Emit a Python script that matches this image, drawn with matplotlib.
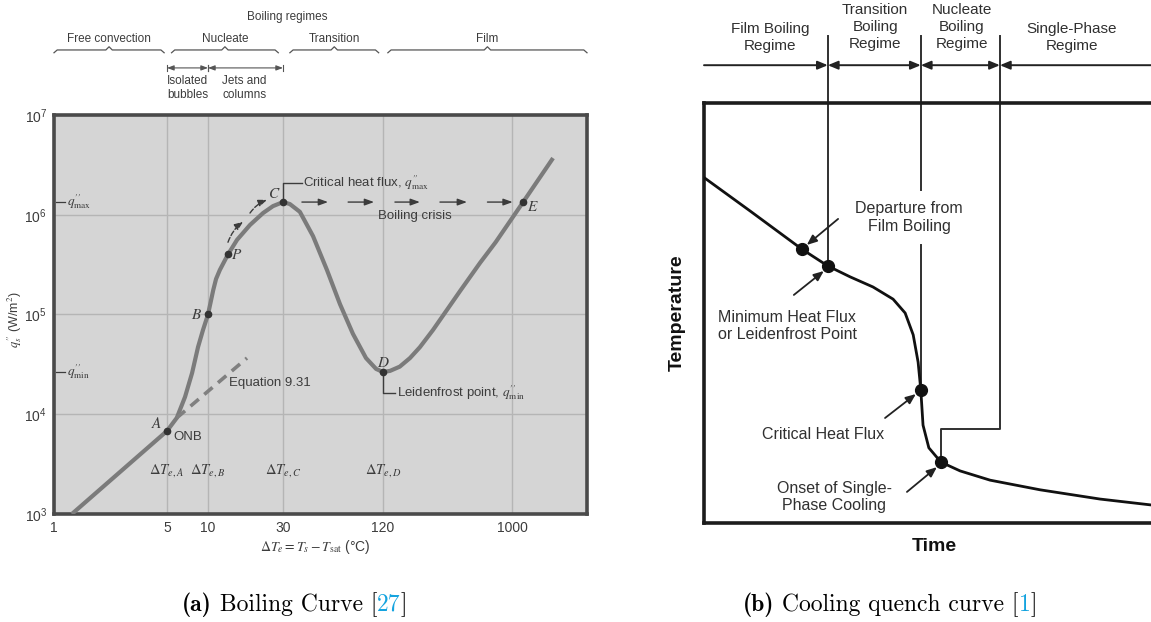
import numpy as np
import matplotlib.pyplot as plt
from matplotlib import transforms

# (a) boiling curve of water at 1 atm: excess temperature (C) vs surface heat flux (W/m^2)
dT = [1.29, 5, 5.9, 6.78, 7.64, 8.45, 9.19, 10, 10.8, 11.25, 11.9, 13.4, 15.3, 18.5, 22.4, 25.9, 30,
      33.0, 37.9, 45.5, 55.2, 66.1, 79.1, 94.8, 109, 120, 134.6, 158, 187, 220, 273, 343, 426,
      592, 764, 1180, 1840]
q = [1.0e3, 6.8e3, 9.2e3, 1.49e4, 2.59e4, 4.72e4, 7.0e4, 1.0e5, 1.76e5, 2.27e5, 2.8e5, 4.0e5, 5.6e5,
     7.9e5, 1.04e6, 1.22e6, 1.34e6,
     1.28e6, 1.07e6, 6.1e5, 2.79e5, 1.27e5, 6.4e4, 3.66e4, 2.85e4, 2.65e4, 2.72e4, 3.0e4, 3.66e4,
     4.7e4, 7.0e4, 1.11e5, 1.72e5, 3.3e5, 5.3e5, 1.34e6, 3.7e6]
pt_names = ['A', 'B', 'P', 'C', 'D', 'E']
pt_dT = [5, 10, 13.4, 30, 120, 1180]
pt_q = [6.8e3, 1.0e5, 4.0e5, 1.34e6, 2.65e4, 1.34e6]
eq_dT = [5.9, 17.7]          # Equation 9.31 (free convection extrapolated)
eq_q = [9.2e3, 3.66e4]
x_ticks = [1, 5, 10, 30, 120, 1000]
y_ticks = [1e3, 1e4, 1e5, 1e6, 1e7]
regimes = ['Free convection', 'Nucleate', 'Transition', 'Film']
regime_span = [(1, 4.8), (5.4, 28), (33, 113), (130, 3200)]

# (b) quench cooling curve, arbitrary units
time = [0.2, 10.3, 21.9, 27.7, 32.7, 37.8, 42.3, 45.0, 46.8, 47.9, 48.5, 49.0, 50.3, 53.0,
        57.3, 64.0, 75.2, 88.6, 100]
temp = [82.1, 74.3, 65.2, 61.2, 58.6, 56.2, 53.3, 50.0, 44.8, 38.3, 31.7, 23.3, 17.9, 14.5,
        12.4, 10.2, 7.9, 5.7, 4.3]
mark_time = [21.9, 27.7, 48.5, 53.0]
mark_temp = [65.2, 61.2, 31.7, 14.5]
bounds = [0, 27.7, 48.5, 66.2, 100]
quench_regimes = ['Film Boiling\nRegime', 'Transition\nBoiling\nRegime',
                  'Nucleate\nBoiling\nRegime', 'Single-Phase\nRegime']

plt.rcParams['mathtext.fontset'] = 'stix'
narrow = 'Liberation Sans'
ink = '#3c3c3c'
qpp = r"q^{\prime\prime}"

fig = plt.figure(figsize=(11.51, 6.22), dpi=100)
axL = fig.add_axes([54 / 1151, 108 / 622, 533 / 1151, 399 / 622])
axR = fig.add_axes([704 / 1151, 99 / 622, 447 / 1151, 420 / 622])

# ---- left: boiling curve ----
# schematic log axis: decades are not evenly spaced in the original drawing
scale_log = [-1, 0, np.log10(5), 1, np.log10(30), np.log10(120), 3, 5]
scale_pos = [-155, 0, 113, 154, 229, 329, 458, 768]


def fwd(x):
    return np.interp(np.log10(np.clip(x, 1e-6, None)), scale_log, scale_pos)


def inv(p):
    return 10 ** np.interp(p, scale_pos, scale_log)


def fx(x):
    return float(fwd(x)) / 533


axL.set_xscale('function', functions=(fwd, inv))
axL.set_yscale('log')
axL.set_xlim(1, inv(533))
axL.set_ylim(1e3, 1e7)
axL.set_facecolor('#d5d5d5')
axL.set_xticks(x_ticks)
axL.set_xticklabels([str(v) for v in x_ticks])
axL.set_yticks(y_ticks)
axL.yaxis.set_minor_locator(plt.NullLocator())
axL.grid(True, color='#b5b5b5', lw=1)
axL.tick_params(length=0, labelsize=10, colors=ink, pad=5)
for lab in axL.get_xticklabels() + axL.get_yticklabels():
    lab.set_family(narrow)
for s in axL.spines.values():
    s.set_linewidth(2.6)
    s.set_color('#4a4a4a')

axL.plot(dT, q, color='#7b7b7b', lw=3, solid_capstyle='butt', solid_joinstyle='round', zorder=3)
axL.plot(eq_dT, eq_q, color='#808080', lw=2.6, ls=(0, (3, 2)), zorder=3)
axL.plot(pt_dT, pt_q, 'o', color='#333333', ms=4.5, zorder=4)
offsets = {'A': (-10, 7), 'B': (-11, 0), 'P': (9, 0), 'C': (-9, 9), 'D': (0, 10), 'E': (10, -4)}
for name, x, y in zip(pt_names, pt_dT, pt_q):
    axL.annotate(f'${name}$', (x, y), xytext=offsets[name], textcoords='offset pixels',
                 ha='center', va='center', fontsize=11, color=ink)
axL.annotate('ONB', (pt_dT[0], pt_q[0]), xytext=(6, -6), textcoords='offset pixels',
             ha='left', va='center', fontsize=9.5, color=ink, family=narrow)

# q''max and q''min marks on the flux axis
ymix = transforms.blended_transform_factory(axL.transAxes, axL.transData)
for val, sub in [(pt_q[3], 'max'), (pt_q[4], 'min')]:
    axL.plot([0.004, 0.02], [val, val], color=ink, lw=0.9, transform=ymix)
    axL.text(0.024, val, r"$%s_{\rm %s}$" % (qpp, sub), transform=ymix, fontsize=9.5,
             va='center', ha='left', color=ink)

# critical heat flux / Leidenfrost leaders
axL.plot([30, 30, 39], [1.34e6, 2.08e6, 2.08e6], color=ink, lw=1)
axL.text(39.8, 2.08e6, r"Critical heat flux, $%s_{\rm max}$" % qpp, va='center', ha='left',
         fontsize=9.5, color=ink, family=narrow)
axL.plot([120, 120, 146], [2.65e4, 1.63e4, 1.63e4], color=ink, lw=1)
axL.text(150, 1.63e4, r"Leidenfrost point, $%s_{\rm min}$" % qpp, va='center', ha='left',
         fontsize=9.5, color=ink, family=narrow)

# boiling crisis jump C -> E
for a, b in [(39, 56), (74, 106), (146, 220), (306, 477), (668, 1010)]:
    axL.annotate('', xy=(b, 1.34e6), xytext=(a, 1.34e6),
                 arrowprops=dict(arrowstyle='-|>,head_length=0.55,head_width=0.2', color=ink,
                                 lw=1, shrinkA=0, shrinkB=0))
axL.text(0.677, 0.747, 'Boiling crisis', transform=axL.transAxes, ha='center', va='center',
         fontsize=9.5, color=ink, family=narrow)
for (x0, y0), (x1, y1) in [((13.4, 5.3e5), (16.7, 8.5e5)), ((18.5, 1.04e6), (23.7, 1.41e6))]:
    axL.annotate('', xy=(x1, y1), xytext=(x0, y0),
                 arrowprops=dict(arrowstyle='-|>,head_length=0.5,head_width=0.2', color=ink,
                                 lw=1, ls='--', shrinkA=0, shrinkB=0,
                                 connectionstyle='arc3,rad=-0.15'))
axL.text(0.328, 0.328, 'Equation 9.31', transform=axL.transAxes, ha='left', va='center',
         fontsize=9.5, color=ink, family=narrow)

xmix = transforms.blended_transform_factory(axL.transData, axL.transAxes)
for x, s in zip(pt_dT[:2] + pt_dT[3:5], 'ABCD'):
    axL.text(x, 0.11, r'$\Delta T_{e,%s}$' % s, transform=xmix, ha='center', va='center',
             fontsize=10.5, color=ink)
axL.text(0.49, -0.083, r'$\Delta T_e = T_s - T_{\rm sat}$ (°C)', transform=axL.transAxes,
         ha='center', va='center', fontsize=10, color=ink, family=narrow)
fig.text(0.013, 0.486, r"$%s_s$ (W/m$^2$)" % qpp, rotation=90, ha='center', va='center',
         fontsize=9, color=ink, family=narrow)

# regime braces above the plot
axL.text(0.437, 1.246, 'Boiling regimes', transform=axL.transAxes, ha='center', va='center',
         fontsize=8.5, color=ink, family=narrow)
for name, (x0, x1) in zip(regimes, regime_span):
    a, b = fx(x0), min(fx(x1), 1.0)
    m = (a + b) / 2
    d = 0.006
    axL.plot([a, a + d, m - d, m, m + d, b - d, b], [1.156, 1.163, 1.163, 1.171, 1.163, 1.163, 1.156],
             transform=axL.transAxes, clip_on=False, color='#555555', lw=0.9)
    axL.text(m, 1.19, name, transform=axL.transAxes, ha='center', va='center',
             fontsize=8.5, color=ink, family=narrow)
for x0, x1 in [(5, 10), (10, 30)]:
    axL.annotate('', xy=(fx(x1), 1.118), xytext=(fx(x0), 1.118), xycoords='axes fraction',
                 arrowprops=dict(arrowstyle='<|-|>,head_length=0.4,head_width=0.15', color='#555555',
                                 lw=0.8, shrinkA=0, shrinkB=0))
    for xx in (x0, x1):
        axL.plot([fx(xx), fx(xx)], [1.111, 1.126], transform=axL.transAxes, clip_on=False,
                 color='#555555', lw=0.8)
axL.text(fx(5), 1.1, 'Isolated\nbubbles', transform=axL.transAxes, ha='left', va='top',
         fontsize=8.5, color=ink, family=narrow, linespacing=1.2)
axL.text(0.316, 1.1, 'Jets and\ncolumns', transform=axL.transAxes, ha='left', va='top',
         fontsize=8.5, color=ink, family=narrow, linespacing=1.2)

# ---- right: quench curve ----
sans = 'Liberation Sans'
dark = '#303030'
axR.set_xlim(0, 100)
axR.set_ylim(0, 100)
axR.set_xticks([])
axR.set_yticks([])
for s in ['left', 'top', 'bottom']:
    axR.spines[s].set_linewidth(2.6)
    axR.spines[s].set_color('#1c1c1c')
axR.spines['right'].set_visible(False)

axR.plot(time, temp, color='#111111', lw=2, zorder=3)
axR.plot(mark_time, mark_temp, 'o', color='#111111', ms=8.5, zorder=4)

lkw = dict(color=dark, lw=1.4, clip_on=False)
axR.plot([27.7, 27.7], [116, 61.2], **lkw)
axR.plot([48.5, 48.5], [116, 79.3], **lkw)
axR.plot([48.5, 48.5], [66.2, 31.7], **lkw)
axR.plot([66.2, 66.2, 53.0, 53.0], [116, 22.4, 22.4, 14.5], **lkw)

for i, name in enumerate(quench_regimes):
    a, b = bounds[i], bounds[i + 1]
    style = '<|-|>' if 0 < i < 3 else ('-|>' if i == 0 else '<|-')
    axR.annotate('', xy=(b, 109), xytext=(a, 109), annotation_clip=False,
                 arrowprops=dict(arrowstyle=style + ',head_length=0.6,head_width=0.25',
                                 color='#222222', lw=1.4, shrinkA=0, shrinkB=0))
header_x = [14.8, 38.3, 57.7, 82.3]
for x, name in zip(header_x, quench_regimes):
    axR.text(x, 115.6 if name.count('\n') == 1 else 118.1, name, ha='center', va='center',
             fontsize=11, color=dark, family=sans, linespacing=1.3, clip_on=False)

akw = dict(arrowstyle='-|>,head_length=0.6,head_width=0.25', color='#222222', lw=1.3,
           shrinkA=0, shrinkB=0)
axR.text(45.9, 72.7, 'Departure from\nFilm Boiling', ha='center', va='center', fontsize=11.5,
         color=dark, family=sans, linespacing=1.2)
axR.annotate('', xy=(23.0, 66.2), xytext=(30.0, 72.4), arrowprops=akw)
axR.text(3.1, 46.9, 'Minimum Heat Flux\nor Leidenfrost Point', ha='left', va='center',
         fontsize=11.5, color=dark, family=sans, linespacing=1.2)
axR.annotate('', xy=(26.8, 60.0), xytext=(20.1, 54.3), arrowprops=akw)
axR.text(26.6, 21.0, 'Critical Heat Flux', ha='center', va='center', fontsize=11.5,
         color=dark, family=sans)
axR.annotate('', xy=(47.4, 30.7), xytext=(40.5, 25.0), arrowprops=akw)
axR.text(29.1, 6.2, 'Onset of Single-\nPhase Cooling', ha='center', va='center', fontsize=11.5,
         color=dark, family=sans, linespacing=1.2)
axR.annotate('', xy=(52.1, 13.3), xytext=(45.4, 7.4), arrowprops=akw)

axR.text(-6.0, 50, 'Temperature', rotation=90, ha='center', va='center', fontsize=14,
         fontweight='bold', color='#111111', family=sans, clip_on=False)
axR.text(51.5, -5.5, 'Time', ha='center', va='center', fontsize=14, fontweight='bold',
         color='#111111', family=sans, clip_on=False)

# ---- sub-figure captions ----
renderer = fig.canvas.get_renderer()


def caption(x, parts, y=0.018):
    for txt, fam, col in parts:
        t = fig.text(x, y, txt, family=fam, color=col, fontsize=17, va='baseline')
        x = t.get_window_extent(renderer).x1 / fig.bbox.width


cite = '#14a3df'
caption(0.158, [('(a)', 'cmb10', 'k'), (' Boiling Curve [', 'cmr10', 'k'),
                ('27', 'cmr10', cite), (']', 'cmr10', 'k')])
caption(0.6455, [('(b)', 'cmb10', 'k'), (' Cooling quench curve [', 'cmr10', 'k'),
                 ('1', 'cmr10', cite), (']', 'cmr10', 'k')])

fig.savefig('out.png', dpi=100)
